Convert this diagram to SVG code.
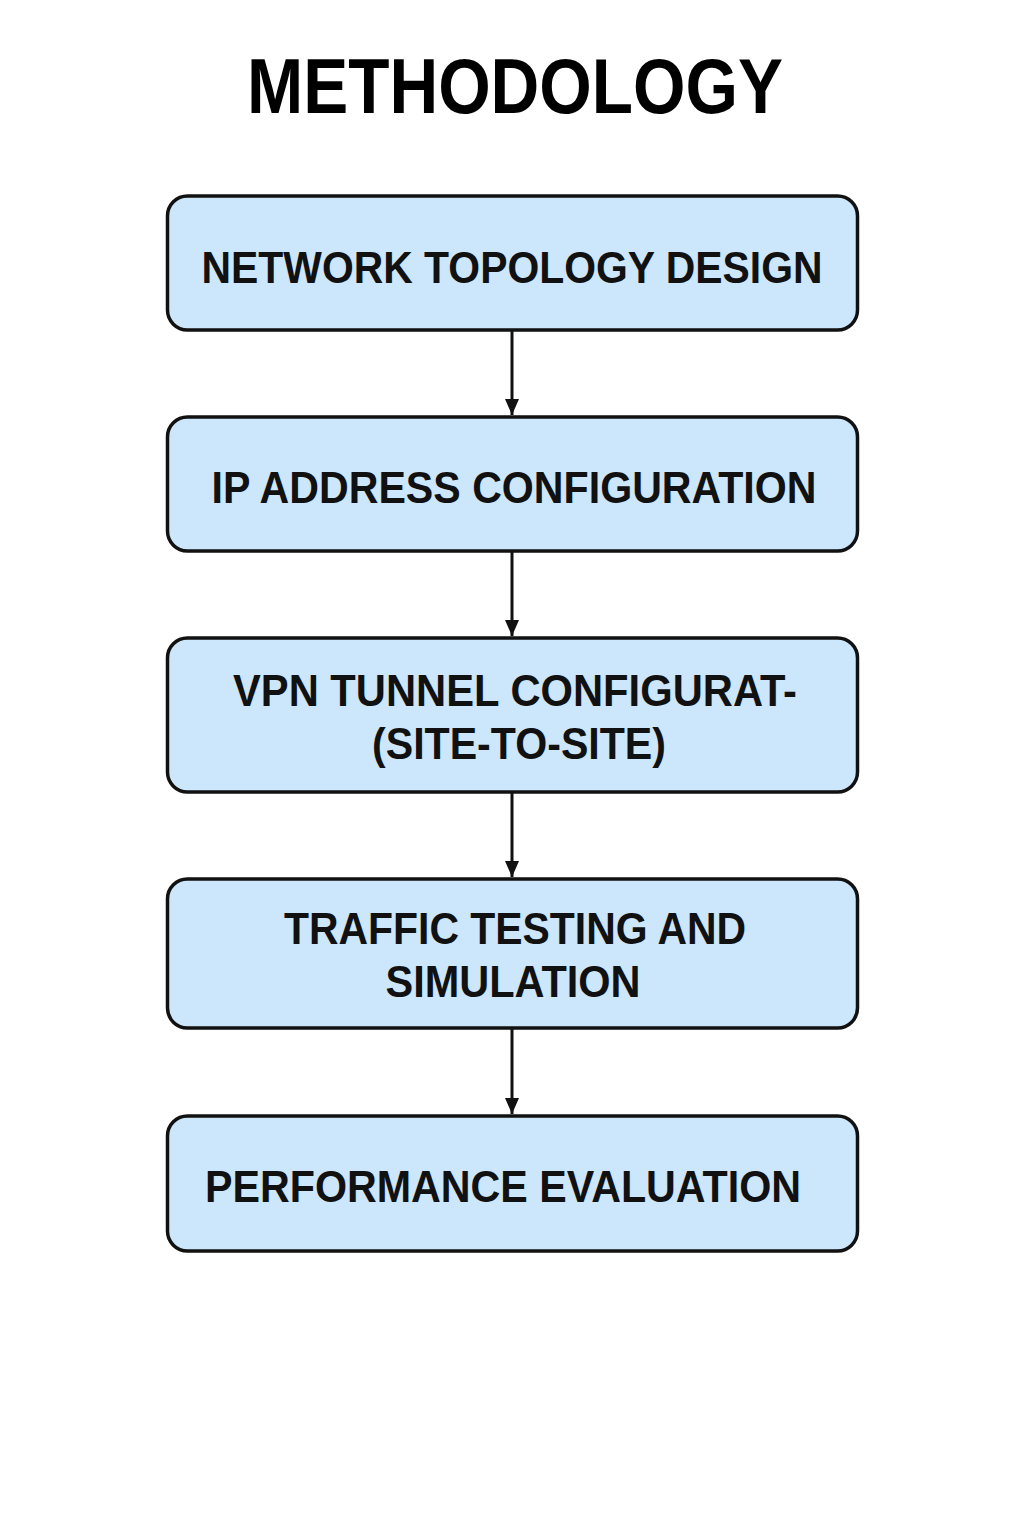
<svg xmlns="http://www.w3.org/2000/svg" width="1024" height="1536" viewBox="0 0 1024 1536">
<defs>
<style>
.box{fill:#cce7fb;stroke:#111;stroke-width:3.5}
.t{font-family:"Liberation Sans",Arial,sans-serif;font-weight:bold;font-size:45px;fill:#111;text-anchor:middle}
.title{font-family:"Liberation Sans",Arial,sans-serif;font-weight:bold;font-size:77px;fill:#000;text-anchor:middle}
.c{stroke:#111;stroke-width:3;fill:none}
</style>
<marker id="ah" markerWidth="16" markerHeight="14" refX="16" refY="7" orient="auto" markerUnits="userSpaceOnUse">
<path d="M0,0 L16,7 L0,14 Z" fill="#111"/>
</marker>
</defs>
<rect width="1024" height="1536" fill="#fff"/>
<text class="title" x="515" y="113" textLength="536" lengthAdjust="spacingAndGlyphs">METHODOLOGY</text>
<g id="connectors">
<line class="c" x1="512" y1="331" x2="512" y2="415" marker-end="url(#ah)"/>
<line class="c" x1="512" y1="552" x2="512" y2="636" marker-end="url(#ah)"/>
<line class="c" x1="512" y1="793" x2="512" y2="877" marker-end="url(#ah)"/>
<line class="c" x1="512" y1="1029" x2="512" y2="1114" marker-end="url(#ah)"/>
</g>
<g id="n1">
<rect class="box" x="167.5" y="196" width="690" height="134" rx="20"/>
<text class="t" x="512" y="283" textLength="621" lengthAdjust="spacingAndGlyphs">NETWORK TOPOLOGY DESIGN</text>
</g>
<g id="n2">
<rect class="box" x="167.5" y="417" width="690" height="134" rx="20"/>
<text class="t" x="514" y="503" textLength="605" lengthAdjust="spacingAndGlyphs">IP ADDRESS CONFIGURATION</text>
</g>
<g id="n3">
<rect class="box" x="167.5" y="638" width="690" height="154" rx="20"/>
<text class="t" x="515" y="706" textLength="564" lengthAdjust="spacingAndGlyphs">VPN TUNNEL CONFIGURAT-</text>
<text class="t" x="519" y="759" textLength="294" lengthAdjust="spacingAndGlyphs">(SITE-TO-SITE)</text>
</g>
<g id="n4">
<rect class="box" x="167.5" y="879" width="690" height="149" rx="20"/>
<text class="t" x="515" y="944" textLength="462" lengthAdjust="spacingAndGlyphs">TRAFFIC TESTING AND</text>
<text class="t" x="513" y="997" textLength="255" lengthAdjust="spacingAndGlyphs">SIMULATION</text>
</g>
<g id="n5">
<rect class="box" x="167.5" y="1116" width="690" height="135" rx="20"/>
<text class="t" x="503" y="1202" textLength="596" lengthAdjust="spacingAndGlyphs">PERFORMANCE EVALUATION</text>
</g>
</svg>
